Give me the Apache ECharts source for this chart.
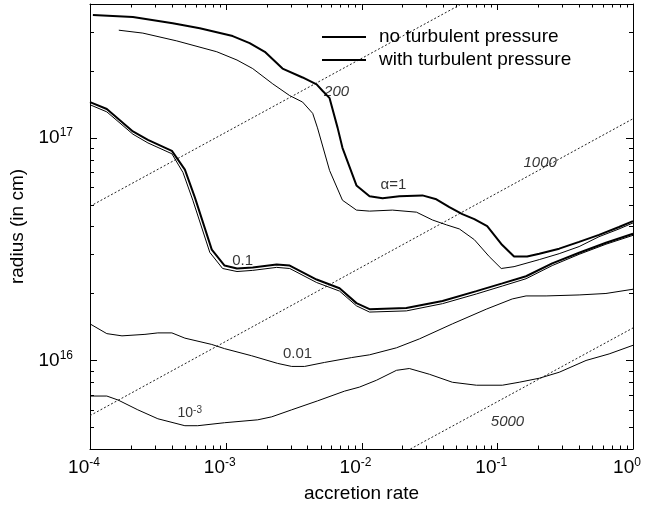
<!DOCTYPE html>
<html><head><meta charset="utf-8">
<script src="https://cdn.jsdelivr.net/npm/echarts@6/dist/echarts.min.js"></script>
<style>html,body{margin:0;padding:0;background:#fff}#c{width:659px;height:508px}</style>
</head><body><div id="c"></div>
<script>
const FONT = 'Liberation Sans, Arial, Helvetica, sans-serif';

// alpha = 1, with turbulent pressure (thick)
const a1ThickX = [1.05e-4, 2.07e-4, 4.07e-4, 6.44e-4, 1.125e-3, 1.50e-3, 1.94e-3, 2.62e-3, 3.68e-3, 4.67e-3, 5.16e-3, 5.82e-3, 6.67e-3, 7.24e-3, 9.18e-3, 1.146e-2, 1.43e-2, 1.90e-2, 2.81e-2, 3.56e-2, 4.44e-2, 5.53e-2, 6.78e-2, 8.43e-2, 0.107, 0.133, 0.166, 0.204, 0.286, 0.401, 0.562, 0.789, 1.0];
const a1ThickY = [3.57e17, 3.50e17, 3.28e17, 3.11e17, 2.87e17, 2.67e17, 2.44e17, 2.05e17, 1.87e17, 1.74e17, 1.63e17, 1.51e17, 1.11e17, 9.03e16, 6.12e16, 5.47e16, 5.36e16, 5.47e16, 5.52e16, 5.30e16, 4.89e16, 4.55e16, 4.32e16, 4.02e16, 3.34e16, 2.93e16, 2.93e16, 3.02e16, 3.18e16, 3.41e16, 3.67e16, 3.98e16, 4.23e16];
// alpha = 1, no turbulent pressure (thin)
const a1ThinX = [1.63e-4, 2.45e-4, 4.36e-4, 8.59e-4, 1.21e-3, 1.58e-3, 2.22e-3, 2.96e-3, 3.68e-3, 4.37e-3, 4.74e-3, 5.82e-3, 7.24e-3, 9.18e-3, 1.146e-2, 1.69e-2, 2.54e-2, 3.33e-2, 4.22e-2, 5.26e-2, 6.78e-2, 8.73e-2, 0.107, 0.133, 0.204, 0.286, 0.401, 0.562, 0.789, 1.0];
const a1ThinY = [3.05e17, 2.96e17, 2.73e17, 2.44e17, 2.24e17, 2.05e17, 1.75e17, 1.55e17, 1.45e17, 1.29e17, 1.11e17, 7.14e16, 5.25e16, 4.74e16, 4.69e16, 4.74e16, 4.64e16, 4.28e16, 4.07e16, 3.90e16, 3.49e16, 2.93e16, 2.59e16, 2.64e16, 2.84e16, 3.02e16, 3.25e16, 3.60e16, 3.90e16, 4.15e16];
// alpha = 0.1, with turbulent pressure (thick)
const a01ThickX = [1e-4, 1.33e-4, 2.07e-4, 2.67e-4, 4.01e-4, 5.0e-4, 5.92e-4, 7.89e-4, 9.8e-4, 1.21e-3, 1.58e-3, 2.37e-3, 2.96e-3, 4.67e-3, 6.89e-3, 9.18e-3, 1.146e-2, 2.14e-2, 3.95e-2, 7.02e-2, 0.109, 0.163, 0.254, 0.401, 0.632, 1.0];
const a01ThickY = [1.45e17, 1.35e17, 1.07e17, 9.8e16, 8.75e16, 7.21e16, 5.41e16, 3.15e16, 2.67e16, 2.59e16, 2.62e16, 2.70e16, 2.67e16, 2.31e16, 2.11e16, 1.81e16, 1.70e16, 1.72e16, 1.85e16, 2.05e16, 2.22e16, 2.39e16, 2.73e16, 3.05e16, 3.38e16, 3.71e16];
// alpha = 0.1, no turbulent pressure (thin)
const a01ThinX = [1e-4, 1.33e-4, 2.07e-4, 2.67e-4, 4.01e-4, 4.84e-4, 5.72e-4, 7.63e-4, 9.48e-4, 1.21e-3, 1.58e-3, 2.37e-3, 2.96e-3, 4.67e-3, 6.89e-3, 9.18e-3, 1.146e-2, 2.14e-2, 3.95e-2, 7.02e-2, 0.109, 0.163, 0.254, 0.401, 0.632, 1.0];
const a01ThinY = [1.41e17, 1.31e17, 1.04e17, 9.5e16, 8.49e16, 7.0e16, 5.25e16, 3.06e16, 2.59e16, 2.51e16, 2.54e16, 2.62e16, 2.59e16, 2.24e16, 2.05e16, 1.76e16, 1.65e16, 1.67e16, 1.80e16, 1.99e16, 2.16e16, 2.33e16, 2.67e16, 3.0e16, 3.33e16, 3.65e16];
// alpha = 0.01
const a001X = [1e-4, 1.33e-4, 1.72e-4, 2.54e-4, 3.16e-4, 4.01e-4, 5.0e-4, 7.89e-4, 9.8e-4, 1.55e-3, 2.41e-3, 3.06e-3, 3.81e-3, 5.35e-3, 8.43e-3, 1.146e-2, 1.81e-2, 2.67e-2, 4.67e-2, 8.30e-2, 0.129, 0.163, 0.229, 0.401, 0.632, 1.0];
const a001Y = [1.46e16, 1.32e16, 1.29e16, 1.31e16, 1.33e16, 1.33e16, 1.26e16, 1.18e16, 1.13e16, 1.05e16, 9.7e15, 9.4e15, 9.4e15, 9.8e15, 1.03e16, 1.06e16, 1.14e16, 1.25e16, 1.46e16, 1.70e16, 1.89e16, 1.95e16, 1.95e16, 1.97e16, 2.00e16, 2.09e16];
// alpha = 10^-3
const a0001X = [1e-4, 1.33e-4, 1.61e-4, 2.25e-4, 3.16e-4, 5.0e-4, 6.22e-4, 9.8e-4, 1.72e-3, 2.18e-3, 3.06e-3, 4.74e-3, 7.5e-3, 9.66e-3, 1.29e-2, 1.81e-2, 2.25e-2, 3.16e-2, 4.67e-2, 7.02e-2, 0.109, 0.145, 0.204, 0.286, 0.451, 0.667, 1.0];
const a0001Y = [6.92e15, 6.92e15, 6.64e15, 6.0e15, 5.47e15, 5.09e15, 5.09e15, 5.25e15, 5.41e15, 5.58e15, 6.0e15, 6.58e15, 7.28e15, 7.59e15, 8.15e15, 9.03e15, 9.2e15, 8.67e15, 7.98e15, 7.74e15, 7.74e15, 7.98e15, 8.32e15, 8.85e15, 1.0e16, 1.07e16, 1.17e16];
// dotted reference lines (labelled 200, 1000, 5000)
const ref200X = [1e-4, 0.0545];  const ref200Y = [4.93e16, 4.0e17];
const ref1000X = [1e-4, 1];      const ref1000Y = [5.65e15, 1.22e17];
const ref5000X = [0.0229, 1];    const ref5000Y = [4.0e15, 1.4e16];
// annotations
const noteText = ['200', '1000', '5000', 'α=1', '0.1', '0.01', '{n|10}{s|-3}'];
const noteItalic = [true, true, true, false, false, false, false];
const noteX = [6.55e-3, 0.207, 0.119, 1.72e-2, 1.33e-3, 3.38e-3, 5.43e-4];
const noteY = [1.62e17, 7.74e16, 5.30e15, 6.18e16, 2.81e16, 1.07e16, 5.81e15];
// axes
const xMin = 1e-4, xMax = 1, yMin = 4e15, yMax = 4e17;
const legendNames = ['no turbulent pressure', 'with turbulent pressure'];

const zip = (xs, ys) => xs.map((x, i) => [x, ys[i]]);
// tick positions of a log axis: [value, isMajor]
function logTicks(lo, hi) {
  const out = [];
  for (let e = Math.floor(Math.log10(lo)); e <= Math.ceil(Math.log10(hi)); e++) {
    for (let m = 1; m <= 9; m++) {
      const v = m * Math.pow(10, e);
      if (v > lo * 1.000001 && v < hi * 0.999999) out.push([v, m === 1]);
    }
  }
  return out;
}
function isPow(v) { const l = Math.log10(v); return Math.abs(l - Math.round(l)) < 1e-6; }

const chart = echarts.init(document.getElementById('c'));
const black = '#000';
const TICK = '#000';
function curve(name, xs, ys, width) {
  return { type: 'line', name, data: zip(xs, ys), xAxisIndex: 0, yAxisIndex: 0, showSymbol: false, symbol: 'none',
    lineStyle: { color: black, width }, itemStyle: { color: black }, silent: true, z: 3 };
}
function refLine(xs, ys) {
  return { type: 'line', name: 'ref', data: zip(xs, ys), xAxisIndex: 0, yAxisIndex: 0, symbol: 'none',
    lineStyle: { color: '#222', width: 1, type: [2, 2] }, silent: true, z: 2 };
}

const baseAxis = (extra) => Object.assign({
  axisLine: { show: true, onZero: false, lineStyle: { color: black, width: 1 } },
  axisTick: { show: false }, splitLine: { show: false }, axisLabel: { show: false }
}, extra);

const option = {
  animation: false,
  backgroundColor: '#fff',
  textStyle: { fontFamily: FONT },
  grid: { left: 90, right: 26, top: 4, bottom: 54, containLabel: false },
  legend: {
    data: legendNames, orient: 'vertical', left: 316, top: 22, itemWidth: 44, itemHeight: 20, itemGap: 3,
    selectedMode: false, itemStyle: { opacity: 0 },
    textStyle: { fontSize: 19, fontFamily: FONT, color: black, lineHeight: 20, padding: [0, 0, 0, 8] }
  },
  xAxis: [
    baseAxis({ type: 'log', min: xMin, max: xMax, position: 'bottom',
      axisLabel: { show: true, margin: 8, color: black, padding: [0, 12, 0, 0],
        formatter: v => isPow(v) ? '{b|10}{e|' + Math.round(Math.log10(v)) + '}' : '',
        rich: { b: { fontSize: 19, lineHeight: 22, fontFamily: FONT, color: black },
                e: { fontSize: 12, lineHeight: 12, verticalAlign: 'top', fontFamily: FONT, color: black } } },
      name: 'accretion rate', nameLocation: 'middle', nameGap: 35,
      nameTextStyle: { fontSize: 19, fontFamily: FONT, color: black } }),
    baseAxis({ type: 'log', min: xMin, max: xMax, position: 'top' })
  ],
  yAxis: [
    baseAxis({ type: 'log', min: yMin, max: yMax, position: 'left',
      axisLabel: { show: true, margin: 17, color: black, showMinLabel: false, showMaxLabel: false,
        formatter: v => isPow(v) ? '{b|10}{e|' + Math.round(Math.log10(v)) + '}' : '',
        rich: { b: { fontSize: 19, lineHeight: 22, fontFamily: FONT, color: black },
                e: { fontSize: 12, lineHeight: 12, verticalAlign: 'top', fontFamily: FONT, color: black } } },
      name: 'radius (in cm)', nameLocation: 'middle', nameGap: 54,
      nameTextStyle: { fontSize: 19, fontFamily: FONT, color: black } }),
    baseAxis({ type: 'log', min: yMin, max: yMax, position: 'right' })
  ],
  series: [
    refLine(ref200X, ref200Y),
    refLine(ref1000X, ref1000Y),
    refLine(ref5000X, ref5000Y),
    curve(legendNames[0], a1ThinX, a1ThinY, 1),
    curve(legendNames[1], a1ThickX, a1ThickY, 2),
    curve(legendNames[0], a01ThinX, a01ThinY, 1),
    curve(legendNames[1], a01ThickX, a01ThickY, 2),
    curve(legendNames[0], a001X, a001Y, 1),
    curve(legendNames[0], a0001X, a0001Y, 1),
    {
      type: 'scatter', name: 'notes', xAxisIndex: 0, yAxisIndex: 0, symbolSize: 1, silent: true, z: 5,
      itemStyle: { color: 'transparent' },
      data: noteText.map((t, i) => ({
        value: [noteX[i], noteY[i]],
        label: { show: true, position: 'inside', formatter: t, fontSize: 15, fontFamily: FONT, color: black,
          fontStyle: noteItalic[i] ? 'italic' : 'normal',
          rich: { n: { fontSize: 14, lineHeight: 16, fontFamily: FONT, color: black },
                  s: { fontSize: 10, lineHeight: 10, verticalAlign: 'top', fontFamily: FONT, color: black } } }
      }))
    }
  ]
};
chart.setOption(option);

// Tick marks on all four sides (inward), positioned through the chart's own log scales.
const finder = { xAxisIndex: 0, yAxisIndex: 0 };
const px = (x, y) => chart.convertToPixel(finder, [x, y]);
const crisp = v => Math.round(v) + 0.5;
const tickEls = [];
function addTick(x1, y1, x2, y2) {
  tickEls.push({ type: 'line', silent: true, z: 100,
    shape: { x1, y1, x2, y2 }, style: { stroke: TICK, lineWidth: 1 } });
}
logTicks(xMin, xMax).forEach(([v, major]) => {
  const len = major ? 6 : 3.5;
  const b = px(v, yMin), t = px(v, yMax);
  const x = crisp(b[0]);
  addTick(x, b[1], x, b[1] - len);
  addTick(x, t[1], x, t[1] + len);
});
logTicks(yMin, yMax).forEach(([v, major]) => {
  const len = major ? 7 : 4;
  const l = px(xMin, v), r = px(xMax, v);
  const y = crisp(l[1]);
  addTick(l[0], y, l[0] + len, y);
  addTick(r[0], y, r[0] - len, y);
});
chart.setOption({ graphic: { elements: tickEls } });
</script>
</body></html>
